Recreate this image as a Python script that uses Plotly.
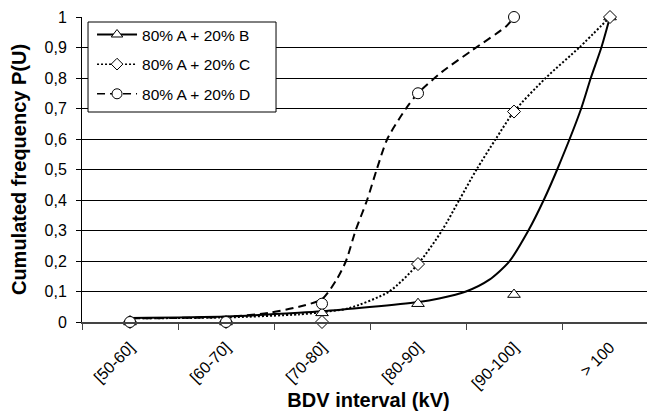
import plotly.graph_objects as go

categories = ["[50-60]", "[60-70]", "[70-80]", "[80-90]", "[90-100]", "> 100"]
series_names = ["80% A + 20% B", "80% A + 20% C", "80% A + 20% D"]

# measured cumulated frequencies (markers)
freq_B = [0, 0, 0.03, 0.06, 0.09, 1]
freq_C = [0, 0, 0, 0.19, 0.69, 1]
freq_D = [0, 0, 0.06, 0.75, 1, None]

# fitted curves (x in category units, 0 = [50-60])
fit_B_x = [0, 1, 1.76, 2, 2.99, 3.22, 3.5, 3.74, 3.95, 4.15, 4.31, 4.45, 4.7, 4.8, 4.91, 5.0]
fit_B_y = [0.013, 0.018, 0.03, 0.035, 0.065, 0.077, 0.10, 0.138, 0.198, 0.30, 0.40, 0.50, 0.70, 0.80, 0.90, 1.0]
fit_C_x = [0, 1, 1.76, 2, 2.28, 2.7, 3.0, 3.25, 3.43, 3.61, 3.81, 4.0, 4.33, 4.68, 5.0]
fit_C_y = [0.012, 0.015, 0.025, 0.032, 0.045, 0.10, 0.19, 0.30, 0.40, 0.50, 0.60, 0.69, 0.80, 0.90, 1.0]
fit_D_x = [0, 1, 1.45, 1.76, 2.0, 2.15, 2.25, 2.35, 2.47, 2.57, 2.68, 2.875, 3.0, 3.25, 3.56, 3.92, 4.0]
fit_D_y = [0.012, 0.017, 0.03, 0.05, 0.075, 0.138, 0.20, 0.30, 0.40, 0.50, 0.60, 0.70, 0.75, 0.82, 0.89, 0.97, 1.0]

FONT = "Liberation Sans, Arial, sans-serif"
xpos = list(range(len(categories)))

fig = go.Figure()

styles = [
    dict(dash="solid", symbol="triangle-up", fx=fit_B_x, fy=fit_B_y, v=freq_B),
    dict(dash="2px,2px", symbol="diamond", fx=fit_C_x, fy=fit_C_y, v=freq_C),
    dict(dash="8px,5px", symbol="circle", fx=fit_D_x, fy=fit_D_y, v=freq_D),
]

for name, s in zip(series_names, styles):
    fig.add_trace(go.Scatter(
        x=s["fx"], y=s["fy"], mode="lines",
        line=dict(color="black", width=2, dash=s["dash"], shape="spline", smoothing=0.7),
        showlegend=False, hoverinfo="skip", xaxis="x", yaxis="y", cliponaxis=False))

for name, s in zip(series_names, styles):
    fig.add_trace(go.Scatter(
        x=xpos, y=s["v"], mode="markers",
        marker=dict(symbol=s["symbol"], size=11 if s["symbol"] != "diamond" else 10, color="white",
                    line=dict(color="black", width=1)),
        showlegend=False, xaxis="x2", yaxis="y", cliponaxis=False))

for i, (name, s) in enumerate(zip(series_names, styles)):
    fig.add_trace(go.Scatter(
        x=[None], y=[None], mode="lines+markers", name=name, legendgroup=f"g{i}",
        line=dict(color="black", width=2 if i == 0 else 1.5, dash=s["dash"]),
        marker=dict(symbol=s["symbol"], size=10 if s["symbol"] != "diamond" else 9, color="white",
                    line=dict(color="black", width=1)),
        xaxis="x2", yaxis="y"))

# page body has an 8px margin: figure sits at (8, 8) in the window
xr = [-0.5, -0.5 + 573 / 96]

fig.update_layout(
    width=647, height=403,
    margin=dict(l=74, r=0, t=9, b=89),
    paper_bgcolor="white", plot_bgcolor="white",
    separators=",.",
    font=dict(family=FONT, size=15, color="black"),
    showlegend=True,
    legend=dict(x=0.0175, y=0.997, xanchor="left", yanchor="top",
                bgcolor="rgba(0,0,0,0)", borderwidth=0,
                font=dict(family=FONT, size=15.5, color="black"),
                tracegroupgap=6.5, itemwidth=40, traceorder="grouped"),
    shapes=[dict(type="rect", xref="paper", yref="paper",
                 x0=0.0105, x1=0.3386, y0=0.6885, y1=0.9836,
                 fillcolor="white", line=dict(color="black", width=1), layer="above")],
    xaxis=dict(range=xr, tickmode="array", tickvals=[i - 0.5 for i in range(7)], automargin=False,
               showticklabels=False, ticks="outside", ticklen=6, tickcolor="#444", tickwidth=1,
               showline=True, linecolor="#444", linewidth=2, showgrid=False, zeroline=False),
    xaxis2=dict(range=xr, overlaying="x", anchor="y", side="bottom", automargin=False,
                tickmode="array", tickvals=xpos, ticktext=categories, tickangle=-45,
                ticks="", showline=False, showgrid=False, zeroline=False, ticklabelstandoff=12,
                tickfont=dict(family=FONT, size=16),
                title=dict(text="<b>BDV interval (kV)</b>", font=dict(family=FONT, size=20), standoff=4)),
    yaxis=dict(range=[0, 1], dtick=0.1, tick0=0, showgrid=True, gridcolor="black", gridwidth=1,
               automargin=False, ticklabelstandoff=6,
               showline=True, linecolor="black", linewidth=1, ticks="outside", ticklen=5,
               tickcolor="black", zeroline=False, tickfont=dict(family=FONT, size=16),
               title=dict(text="<b>Cumulated frequency P(U)</b>", font=dict(family=FONT, size=20), standoff=13)),
)

fig.write_html("out.html")
